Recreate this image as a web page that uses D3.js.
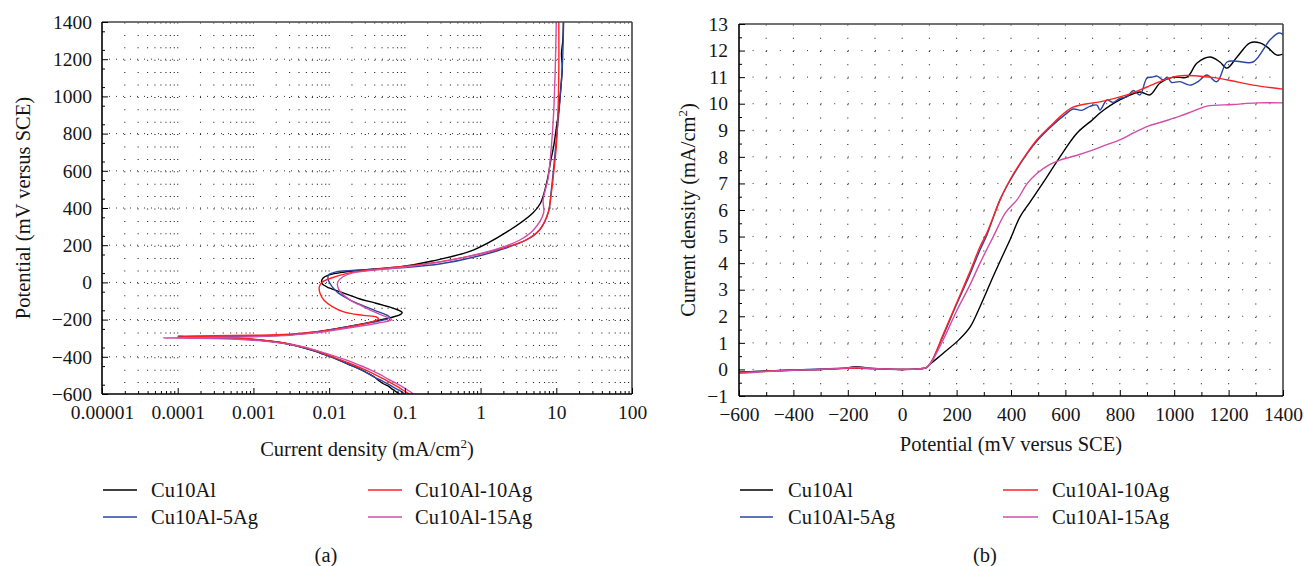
<!DOCTYPE html>
<html><head><meta charset="utf-8">
<script src="https://cdn.jsdelivr.net/npm/d3@7"></script>
<style>
body{margin:0;background:#fff;}
</style></head>
<body><svg id="c" width="1304" height="566"></svg>
<script>
// ---------- DATA ----------
const seriesNames = ["Cu10Al","Cu10Al-5Ag","Cu10Al-10Ag","Cu10Al-15Ag"];
const seriesColors = ["#000000","#2b45a0","#ff2222","#d24ca8"];

// Panel (a): polarization curves, [current density mA/cm2, potential mV]
const polCu10Al = [[0.085,-600],[0.075,-585],[0.066,-570],[0.062,-560],[0.052,-545],[0.046,-530],[0.04,-510],[0.033,-490],[0.025,-465],[0.018,-440],[0.013,-415],[0.009,-390],[0.006,-365],[0.004,-345],[0.0025,-326],[0.0012,-310],[0.0005,-300],[0.0002,-296],[0.0001,-294],
 [0.0003,-292],[0.001,-289],[0.003,-282],[0.006,-270],[0.012,-250],[0.025,-226],[0.045,-204],[0.07,-186],[0.088,-172],[0.092,-162],[0.08,-147],[0.062,-132],[0.04,-110],[0.025,-88],[0.015,-55],[0.01,-30],[0.008,-5],[0.0082,20],[0.01,40],[0.016,56],[0.035,70],[0.088,84],[0.23,115],[0.8,174],[2.2,270],[4.9,373],[6.2,427],[7.6,550],[8.4,650],[9.2,728],[10.0,830],[10.8,927],[11.5,1050],[12.0,1158],[11.7,1230],[12.2,1300],[12.4,1400]];
const polCu10Al5Ag = [[0.1,-600],[0.088,-585],[0.075,-570],[0.062,-550],[0.05,-530],[0.04,-510],[0.033,-490],[0.025,-465],[0.018,-440],[0.013,-415],[0.009,-390],[0.006,-365],[0.004,-345],[0.0024,-326],[0.0011,-310],[0.0004,-299],[0.00015,-295],[0.0001,-293],
 [0.0003,-291],[0.001,-288],[0.003,-281],[0.006,-268],[0.012,-250],[0.025,-228],[0.045,-208],[0.06,-195],[0.063,-186],[0.055,-172],[0.04,-150],[0.026,-120],[0.018,-90],[0.013,-55],[0.011,-24],[0.0098,10],[0.0098,40],[0.012,55],[0.03,68],[0.1,80],[0.3,100],[0.8,135],[1.8,174],[4.0,228],[6.0,282],[7.8,373],[8.6,497],[9.8,728],[10.9,927],[12.0,1158],[12.5,1400]];
const polCu10Al10Ag = [[0.115,-600],[0.095,-580],[0.08,-560],[0.065,-540],[0.05,-515],[0.038,-490],[0.028,-465],[0.02,-440],[0.014,-415],[0.0095,-390],[0.0065,-365],[0.004,-342],[0.0022,-322],[0.001,-305],[0.0004,-295],[0.00015,-290],[0.0001,-288],
 [0.0003,-287],[0.001,-284],[0.003,-278],[0.007,-265],[0.014,-248],[0.025,-228],[0.038,-210],[0.045,-196],[0.042,-186],[0.028,-177],[0.016,-160],[0.011,-130],[0.0085,-95],[0.0076,-60],[0.0074,-25],[0.008,0],[0.011,25],[0.018,50],[0.035,68],[0.07,80],[0.13,92],[0.3,112],[0.8,145],[1.8,180],[4.0,228],[6.0,282],[7.8,373],[8.6,480],[9.3,600],[10.0,728],[10.5,900],[10.8,1150],[10.8,1400]];
const polCu10Al15Ag = [[0.13,-600],[0.11,-580],[0.092,-560],[0.075,-540],[0.06,-520],[0.047,-495],[0.035,-470],[0.025,-445],[0.017,-418],[0.011,-392],[0.007,-368],[0.0045,-347],[0.0025,-328],[0.0012,-313],[0.0004,-303],[0.00015,-300],[0.000065,-299],
 [0.0002,-297],[0.001,-292],[0.003,-285],[0.006,-273],[0.012,-256],[0.025,-236],[0.045,-218],[0.062,-207],[0.067,-200],[0.055,-183],[0.043,-165],[0.028,-130],[0.019,-95],[0.014,-50],[0.013,-24],[0.013,2],[0.015,29],[0.02,50],[0.032,62],[0.088,80],[0.25,105],[0.7,140],[1.5,174],[3.3,228],[5.0,282],[6.8,373],[6.7,443],[7.8,560],[8.6,728],[9.2,900],[9.7,1158],[10.0,1400]];

// Panel (b): anodic curves, [potential mV, current density mA/cm2]
const anoCu10Al = [[-600,-0.1],[-500,-0.06],[-400,-0.02],[-300,0],[-220,0.04],[-170,0.1],[-120,0.05],[-50,0.01],[0,0],[60,0.02],[90,0.07],[105,0.22],[150,0.6],[212,1.15],[250,1.6],[286,2.36],[334,3.49],[370,4.3],[396,4.87],[433,5.74],[470,6.3],[525,7.13],[580,8.0],[643,8.9],[700,9.4],[727,9.65],[800,10.14],[874,10.44],[911,10.33],[948,10.78],[996,11.0],[1047,11.0],[1084,11.53],[1132,11.76],[1168,11.57],[1194,11.34],[1231,11.76],[1279,12.29],[1315,12.29],[1341,12.14],[1378,11.83],[1400,11.87]];
const anoCu10Al5Ag = [[-600,-0.1],[-400,-0.03],[-200,0.05],[-100,0.02],[0,0],[60,0.02],[90,0.08],[108,0.3],[150,1.25],[200,2.45],[250,3.6],[286,4.5],[311,5.05],[360,6.4],[396,7.1],[458,8.1],[500,8.65],[543,9.1],[600,9.6],[628,9.8],[660,9.75],[690,9.9],[716,9.95],[727,9.76],[753,10.14],[775,10.05],[800,10.2],[826,10.26],[850,10.5],[874,10.33],[900,10.97],[920,11.0],[937,11.04],[959,10.9],[975,11.0],[990,10.8],[1021,10.83],[1058,10.7],[1090,10.85],[1120,11.08],[1157,10.83],[1194,11.57],[1230,11.6],[1290,11.57],[1352,12.4],[1385,12.66],[1400,12.6]];
const anoCu10Al10Ag = [[-600,-0.12],[-500,-0.07],[-400,-0.02],[-300,0],[-200,0.04],[-150,0.05],[-100,0.03],[0,0],[60,0.02],[90,0.08],[108,0.3],[150,1.3],[200,2.5],[250,3.7],[286,4.62],[311,5.13],[360,6.38],[396,7.13],[458,8.13],[500,8.7],[543,9.14],[590,9.6],[628,9.87],[680,10.0],[727,10.07],[826,10.33],[900,10.63],[1010,11.04],[1132,11.0],[1194,10.9],[1290,10.7],[1400,10.55]];
const anoCu10Al15Ag = [[-600,-0.15],[-500,-0.08],[-400,-0.03],[-300,0],[-200,0.06],[-170,0.08],[-100,0.03],[0,0],[60,0.02],[90,0.08],[108,0.28],[150,1.1],[200,2.2],[250,3.2],[286,4.0],[334,4.98],[380,5.9],[422,6.38],[460,7.0],[496,7.38],[540,7.7],[580,7.88],[640,8.05],[702,8.26],[750,8.45],[800,8.64],[850,8.9],[900,9.14],[960,9.33],[1021,9.53],[1070,9.72],[1120,9.91],[1216,9.97],[1304,10.03],[1400,10.03]];

const aXTicks = [1e-5,1e-4,1e-3,1e-2,1e-1,1,10,100];
const aXTickLabels = ["0.00001","0.0001","0.001","0.01","0.1","1","10","100"];
const aYTicks = [-600,-400,-200,0,200,400,600,800,1000,1200,1400];
const bXTicks = [-600,-400,-200,0,200,400,600,800,1000,1200,1400];
const bYTicks = [-1,0,1,2,3,4,5,6,7,8,9,10,11,12,13];

// ---------- DRAW ----------
const svg = d3.select("#c");
const FS = 19.5;   // tick labels
const FT = 20.5;   // titles, legend, captions
const FF = "'Liberation Serif', 'Times New Roman', serif";
const TXT = "#151515";
const fmtMinus = v => String(v).replace("-", "\u2212");

function styleAxis(g){
  g.attr("font-family",null);
  g.select(".domain").remove();
  g.selectAll(".tick line").attr("stroke","#000").attr("stroke-width",1);
  g.selectAll("text").attr("font-size",FS).attr("fill",TXT);
}

function panel(cfg){
  const {L,R,T,B} = cfg;
  const clipId = cfg.id+"clip";
  svg.append("clipPath").attr("id",clipId).append("rect").attr("x",L).attr("y",T).attr("width",R-L).attr("height",B-T);
  const grid = svg.append("g");
  cfg.drawGrid(grid);
  const gl = svg.append("g").attr("clip-path",`url(#${clipId})`);
  cfg.series.forEach((d,i)=>{
    gl.append("path").datum(d)
      .attr("fill","none").attr("stroke",seriesColors[i]).attr("stroke-width",1.4)
      .attr("stroke-linejoin","round")
      .attr("d", d3.line().x(cfg.px).y(cfg.py).curve(d3.curveCatmullRom.alpha(0.5)));
  });
  svg.append("line").attr("x1",L).attr("x2",R).attr("y1",T).attr("y2",T).attr("stroke","#444").attr("stroke-width",1.6);
  svg.append("line").attr("x1",R).attr("x2",R).attr("y1",T).attr("y2",B).attr("stroke","#444").attr("stroke-width",1.6);
  svg.append("line").attr("x1",L).attr("x2",L).attr("y1",T).attr("y2",B).attr("stroke","#000").attr("stroke-width",1.6);
  svg.append("line").attr("x1",L).attr("x2",R).attr("y1",B).attr("y2",B).attr("stroke","#000").attr("stroke-width",1.6);
}

function legend(lineX1, lineX2, textX, col2LineX1, col2LineX2, col2TextX){
  const rows=[490,517];
  const pos=[[lineX1,lineX2,textX,rows[0]],[lineX1,lineX2,textX,rows[1]],[col2LineX1,col2LineX2,col2TextX,rows[0]],[col2LineX1,col2LineX2,col2TextX,rows[1]]];
  seriesNames.forEach((n,i)=>{
    const [a,b,t,yy]=pos[i];
    svg.append("line").attr("x1",a).attr("x2",b).attr("y1",yy).attr("y2",yy).attr("stroke",seriesColors[i]).attr("stroke-width",1.4);
    svg.append("text").attr("x",t).attr("y",yy).attr("dy","0.33em").attr("font-size",FT).attr("fill",TXT).text(n);
  });
}

function unitTitle(g, prefix){
  g.append("tspan").text(prefix+" (mA/cm");
  g.append("tspan").attr("font-size",13).attr("dy",-8).text("2");
  g.append("tspan").attr("dy",8).text(")");
}

// ===== Panel (a) =====
{
  const L=102,R=632,T=22,B=394;
  const x = d3.scaleLog().domain([1e-5,100]).range([L,R]);
  const y = d3.scaleLinear().domain([-600,1400]).range([B,T]);
  const minors=[];
  for(let k=-5;k<2;k++) for(let m=2;m<=9;m++) minors.push(m*Math.pow(10,k));
  panel({id:"a",L,R,T,B,
    series:[polCu10Al,polCu10Al5Ag,polCu10Al10Ag,polCu10Al15Ag],
    px:d=>x(d[0]), py:d=>y(d[1]),
    drawGrid:g=>{
      minors.concat(aXTicks.slice(1,-1)).forEach(v=>{
        g.append("line").attr("x1",x(v)).attr("x2",x(v)).attr("y1",T+0.5).attr("y2",B)
         .attr("stroke","#222").attr("stroke-width",1.1).attr("stroke-dasharray","1,11.4");
      });
      aYTicks.slice(1,-1).forEach(v=>{
        g.append("line").attr("x1",L).attr("x2",R).attr("y1",y(v)).attr("y2",y(v))
         .attr("stroke","#333").attr("stroke-width",1).attr("stroke-dasharray","1,6");
      });
    }
  });
  styleAxis(svg.append("g").attr("transform",`translate(0,${B})`)
    .call(d3.axisBottom(x).tickValues(aXTicks).tickFormat((d,i)=>aXTickLabels[i]).tickSize(-6).tickPadding(11)));
  styleAxis(svg.append("g").attr("transform",`translate(0,${B})`)
    .call(d3.axisBottom(x).tickValues(minors).tickFormat("").tickSize(-3)));
  styleAxis(svg.append("g").attr("transform",`translate(${L},0)`)
    .call(d3.axisLeft(y).tickValues(aYTicks).tickFormat(fmtMinus).tickSize(-6).tickPadding(10)));
  styleAxis(svg.append("g").attr("transform",`translate(${L},0)`)
    .call(d3.axisLeft(y).tickValues(d3.range(-550,1400,100)).tickFormat("").tickSize(-3)));
  unitTitle(svg.append("text").attr("x",367).attr("y",449).attr("dy","0.33em").attr("text-anchor","middle").attr("font-size",FT).attr("fill",TXT),"Current density");
  svg.append("text").attr("transform",`translate(23,${(T+B)/2}) rotate(-90)`).attr("dy","0.33em").attr("text-anchor","middle").attr("font-size",FT).attr("fill",TXT).text("Potential (mV versus SCE)");
  legend(103,137,151,368,402,415);
  svg.append("text").attr("x",326).attr("y",555).attr("dy","0.33em").attr("text-anchor","middle").attr("font-size",FT).attr("fill",TXT).text("(a)");
}

// ===== Panel (b) =====
{
  const L=739,R=1283,T=24,B=396;
  const x = d3.scaleLinear().domain([-600,1400]).range([L,R]);
  const y = d3.scaleLinear().domain([-1,13]).range([B,T]);
  panel({id:"b",L,R,T,B,
    series:[anoCu10Al,anoCu10Al5Ag,anoCu10Al10Ag,anoCu10Al15Ag],
    px:d=>x(d[0]), py:d=>y(d[1]),
    drawGrid:g=>{
      d3.range(-500,1400,100).forEach(v=>{
        g.append("line").attr("x1",x(v)).attr("x2",x(v)).attr("y1",T+0.5).attr("y2",B)
         .attr("stroke","#222").attr("stroke-width",1.1).attr("stroke-dasharray","1,12.29");
      });
      d3.range(0,13,1).forEach(v=>{
        g.append("line").attr("x1",L).attr("x2",R).attr("y1",y(v)).attr("y2",y(v))
         .attr("stroke","#333").attr("stroke-width",1).attr("stroke-dasharray","1,12.6");
      });
    }
  });
  styleAxis(svg.append("g").attr("transform",`translate(0,${B})`)
    .call(d3.axisBottom(x).tickValues(bXTicks).tickFormat(fmtMinus).tickSize(-6).tickPadding(11)));
  styleAxis(svg.append("g").attr("transform",`translate(0,${B})`)
    .call(d3.axisBottom(x).tickValues(d3.range(-500,1400,200)).tickFormat("").tickSize(-4)));
  styleAxis(svg.append("g").attr("transform",`translate(${L},0)`)
    .call(d3.axisLeft(y).tickValues(bYTicks).tickFormat(fmtMinus).tickSize(-6).tickPadding(11)));
  styleAxis(svg.append("g").attr("transform",`translate(${L},0)`)
    .call(d3.axisLeft(y).tickValues(d3.range(-0.5,13,1)).tickFormat("").tickSize(-3)));
  svg.append("text").attr("x",1011).attr("y",444).attr("dy","0.33em").attr("text-anchor","middle").attr("font-size",FT).attr("fill",TXT).text("Potential (mV versus SCE)");
  unitTitle(svg.append("text").attr("transform",`translate(688,${(T+B)/2}) rotate(-90)`).attr("dy","0.33em").attr("text-anchor","middle").attr("font-size",FT).attr("fill",TXT),"Current density");
  legend(740,773,788,1003,1038,1052);
  svg.append("text").attr("x",985).attr("y",555).attr("dy","0.33em").attr("text-anchor","middle").attr("font-size",FT).attr("fill",TXT).text("(b)");
}
svg.selectAll("text").style("font-family",FF);
</script></body></html>
